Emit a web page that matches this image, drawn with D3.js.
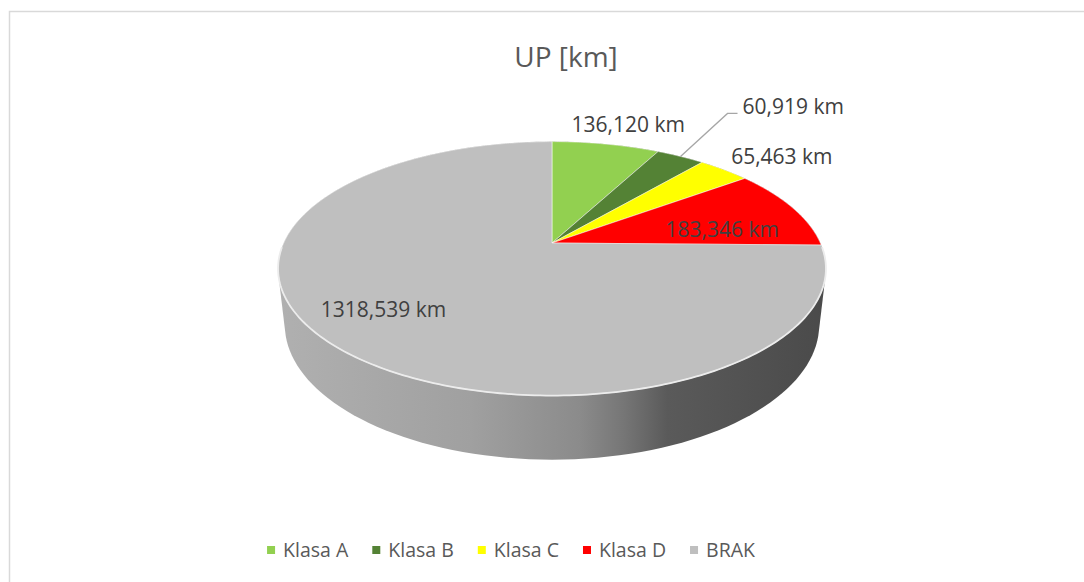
<!DOCTYPE html>
<html lang="pl">
<head>
<meta charset="UTF-8">
<title>UP [km]</title>
<script src="https://cdnjs.cloudflare.com/ajax/libs/d3/7.8.5/d3.min.js"></script>
<style>
  body { margin: 0; background: #fff; }
  text { font-family: "Open Sans", "DejaVu Sans", sans-serif; }
</style>
</head>
<body>
<script>
// dane wykresu
var categories = ['Klasa A', 'Klasa B', 'Klasa C', 'Klasa D', 'BRAK'];
var values = [136.120, 60.919, 65.463, 183.346, 1318.539];
var labels = ['136,120 km', '60,919 km', '65,463 km', '183,346 km', '1318,539 km'];
var colors = ['#92d050', '#548235', '#ffff00', '#ff0000', '#bfbfbf'];

var width = 1084, height = 582;
var svg = d3.select('body').append('svg')
  .attr('width', width)
  .attr('height', height);

// ramka wykresu
svg.append('rect')
  .attr('x', 9.5).attr('y', 11.5)
  .attr('width', width).attr('height', height)
  .attr('fill', 'none')
  .attr('stroke', '#d9d9d9')
  .attr('stroke-width', 1.5);

// tytul
svg.append('text')
  .attr('x', 566).attr('y', 67)
  .attr('text-anchor', 'middle')
  .attr('font-size', 28)
  .attr('fill', '#595959')
  .text('UP [km]');

// rzut perspektywiczny plaskiego walca (wykres 3D)
var cx = 552, cy = 243;        // srodek tarczy
var f = 1186, D = 4.42;        // ogniskowa, odleglosc kamery
var tilt = 27 * Math.PI / 180;
var sa = Math.sin(tilt), ca = Math.cos(tilt);
var depth = 0.236;             // grubosc tarczy

function project(theta, r, y) {
  var X = r * Math.sin(theta), Z = r * Math.cos(theta);
  var yc = y * ca + Z * sa;
  var dist = D + Z * ca - y * sa;
  return [cx + f * X / dist, cy - f * yc / dist];
}

var pie = d3.pie().sort(null).value(function(d) { return d; });
var arcs = pie(values);

// gradient boku
var defs = svg.append('defs');
var grad = defs.append('linearGradient')
  .attr('id', 'side')
  .attr('gradientUnits', 'userSpaceOnUse')
  .attr('x1', 279).attr('x2', 826).attr('y1', 0).attr('y2', 0);
[[0, '#b0b0b0'], [0.35, '#a0a0a0'], [0.55, '#8b8b8b'], [0.63, '#767676'],
 [0.71, '#5a5a5a'], [1, '#4a4a4a']].forEach(function(s) {
  grad.append('stop').attr('offset', s[0]).attr('stop-color', s[1]);
});

// bok walca = otoczka wypukla gornego i dolnego brzegu
var ring = [];
d3.range(0, 361, 2).forEach(function(deg) {
  var t = deg * Math.PI / 180;
  ring.push(project(t, 1, 0));
  ring.push(project(t, 1, -depth));
});
var hull = d3.polygonHull(ring);
svg.append('path')
  .attr('d', 'M' + hull.join('L') + 'Z')
  .attr('fill', 'url(#side)');

// gorne powierzchnie wycinkow
var apex = project(0, 0, 0);
function slicePath(a) {
  var n = Math.max(2, Math.ceil((a.endAngle - a.startAngle) / 0.01));
  var pts = [apex];
  for (var i = 0; i <= n; i++) {
    pts.push(project(a.startAngle + (a.endAngle - a.startAngle) * i / n, 1, 0));
  }
  return 'M' + pts.join('L') + 'Z';
}

svg.selectAll('path.slice')
  .data(arcs)
  .enter()
  .append('path')
  .attr('class', 'slice')
  .attr('d', slicePath)
  .attr('fill', function(d, i) { return colors[i]; })
  .attr('stroke', '#ffffff')
  .attr('stroke-opacity', 0.5)
  .attr('stroke-width', 1);

// jasna krawedz przodu tarczy
var edge = d3.range(92, 269, 1).map(function(deg) {
  return project(deg * Math.PI / 180, 1, 0);
});
svg.append('path')
  .attr('d', 'M' + edge.join('L'))
  .attr('fill', 'none')
  .attr('stroke', '#ececec')
  .attr('stroke-width', 1.8);

// etykiety danych
var labelPlace = [
  { r: 1.24, dx: 12, dy: 0, anchor: 'middle' },
  { r: 1.0, dx: 62, dy: -49, anchor: 'start', leader: true },
  { r: 1.0, dx: 7, dy: -13, anchor: 'start' },
  { r: 0.75, dx: -13, dy: 14, anchor: 'middle' },
  { r: 0.75, dx: -8, dy: -5, anchor: 'middle' }
];

arcs.forEach(function(a, i) {
  var mid = (a.startAngle + a.endAngle) / 2;
  var lp = labelPlace[i];
  var p = project(mid, lp.r, 0);
  var tx = p[0] + lp.dx, ty = p[1] + lp.dy;
  if (lp.leader) {
    svg.append('path')
      .attr('d', 'M' + p[0] + ',' + p[1] + 'L' + (tx - 15) + ',' + (ty + 6) + 'L' + (tx - 5) + ',' + (ty + 6))
      .attr('fill', 'none')
      .attr('stroke', '#a6a6a6')
      .attr('stroke-width', 1.3);
  }
  svg.append('text')
    .attr('x', tx).attr('y', ty + 7)
    .attr('text-anchor', lp.anchor)
    .attr('font-size', 21)
    .attr('fill', '#404040')
    .text(labels[i]);
});

// legenda
var legend = svg.append('g').attr('class', 'legend');
var items = legend.selectAll('g')
  .data(categories)
  .enter()
  .append('g');
items.append('rect')
  .attr('width', 8).attr('height', 8)
  .attr('y', 546)
  .attr('fill', function(d, i) { return colors[i]; });
items.append('text')
  .attr('x', 16).attr('y', 557)
  .attr('font-size', 19.5)
  .attr('fill', '#595959')
  .text(function(d) { return d; });

var xpos = 0, offs = [];
items.each(function() {
  offs.push(xpos);
  xpos += 16 + d3.select(this).select('text').node().getComputedTextLength() + 24;
});
var total = xpos - 24;
var start = 511 - total / 2;
items.attr('transform', function(d, i) { return 'translate(' + (start + offs[i]) + ',0)'; });
</script>
</body>
</html>
